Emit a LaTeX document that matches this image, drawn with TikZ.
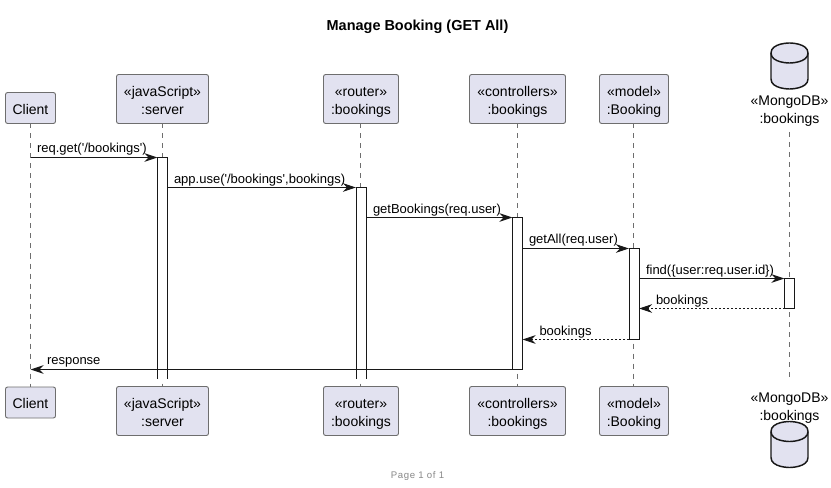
\documentclass[tikz,border=0pt]{standalone}
\usepackage{fontspec}
\usetikzlibrary{arrows.meta}
\newfontfamily\diagfont{Liberation Sans}
\definecolor{partfill}{HTML}{E2E2F0}
\definecolor{partline}{HTML}{181818}
\definecolor{boxline}{HTML}{6E6E6E}
\definecolor{lifecol}{HTML}{6E6E6E}
\definecolor{footcol}{HTML}{888888}
\newcommand{\lowered}[1]{\raisebox{-2.1pt}[\height][\depth]{#1}}
\newcommand{\twolines}[2]{\lowered{\strut #1}\\\lowered{\strut #2}}
\tikzset{
  partbox/.style={draw=boxline,fill=partfill,line width=.7pt,rounded corners=1.6pt,inner sep=0pt,outer sep=0pt,
    align=center,font=\diagfont\fontsize{10.5}{13.5}\selectfont,minimum height=36.75pt},
  clientbox/.style={partbox,minimum height=23.25pt,minimum width=37.5pt},
  dblabel/.style={inner sep=0pt,outer sep=0pt,align=center,minimum height=36pt,font=\diagfont\fontsize{10.5}{13.5}\selectfont},
  lifeline/.style={draw=lifecol,line width=.6pt,dash pattern=on 3.75pt off 3.75pt},
  actbox/.style={draw=partline,fill=white,line width=.75pt,minimum width=7.5pt,inner sep=0pt,outer sep=0pt,anchor=north},
  actopen/.style={actbox,draw=none},
  actedge/.style={draw=partline,line width=.75pt},
  msg/.style={draw=partline,line width=.75pt,-{Stealth[length=9.75pt,width=6.4pt,inset=3pt]}},
  retmsg/.style={msg,line width=.6pt,dash pattern=on 1.5pt off 1.5pt},
  msglabel/.style={inner sep=0pt,outer sep=0pt,anchor=west,font=\diagfont\fontsize{9.75}{12}\selectfont},
  dbshape/.pic={
    \draw[draw=partline,fill=partfill,line width=1.1pt]
      (-18.5,-13) .. controls (-18.5,-23) and (0,-23) .. (0,-23)
      .. controls (0,-23) and (18.5,-23) .. (18.5,-13)
      -- (18.5,13) .. controls (18.5,23) and (0,23) .. (0,23)
      .. controls (0,23) and (-18.5,23) .. (-18.5,13) -- cycle;
    \draw[draw=partline,line width=1.1pt]
      (-18.5,-13) .. controls (-18.5,-3) and (0,-3) .. (0,-3)
      .. controls (0,-3) and (18.5,-3) .. (18.5,-13);
  }
}
\begin{document}
\begin{tikzpicture}[x=.75pt,y=-.75pt]
\useasboundingbox (0,0) rectangle (831,488);
\fill[white] (0,0) rectangle (831,488);
\node[inner sep=0pt,font=\diagfont\bfseries\fontsize{10.85}{12}\selectfont] (title) at (417.5,27) {Manage Booking (GET All)};
\node[inner sep=0pt,text=footcol,font=\diagfont\fontsize{7.2}{9}\selectfont,text width=60pt,align=center] (footer) at (417.5,476) {P\hspace{.5pt}a\hspace{.5pt}g\hspace{.5pt}e 1 o\hspace{.5pt}f 1};
% top participants
\node[clientbox] (ct) at (30.5,108) {\lowered{\strut Client}};
\node[partbox,minimum width=69pt] (st) at (162.5,99) {\twolines{«javaScript»}{:server}};
\node[partbox,minimum width=56.25pt] (rt) at (361,99) {\twolines{«router»}{:bookings}};
\node[partbox,minimum width=72pt] (kt) at (517.5,99) {\twolines{«controllers»}{:bookings}};
\node[partbox,minimum width=51.75pt] (mt) at (634,99) {\twolines{«model»}{:Booking}};
\pic at (789.5,66) {dbshape};
\node[dblabel] (dt) at (789.5,108) {\twolines{«MongoDB»}{:bookings}};
% bottom participants
\node[clientbox] (cb) at (30.5,402.5) {\lowered{\strut Client}};
\node[partbox,minimum width=69pt] (sb) at (162.5,411) {\twolines{«javaScript»}{:server}};
\node[partbox,minimum width=56.25pt] (rb) at (361,411) {\twolines{«router»}{:bookings}};
\node[partbox,minimum width=72pt] (kb) at (517.5,411) {\twolines{«controllers»}{:bookings}};
\node[partbox,minimum width=51.75pt] (mb) at (634,411) {\twolines{«model»}{:Booking}};
\node[dblabel] (db) at (789.5,405) {\twolines{«MongoDB»}{:bookings}};
\pic at (789.5,444.5) {dbshape};
% lifelines
\draw[lifeline] (ct.south) -- (cb.north);
\draw[lifeline] (st.south) -- (sb.north);
\draw[lifeline] ([xshift=-.35pt]rt.south) -- ([xshift=-.35pt]rb.north);
\draw[lifeline] (kt.south) -- (kb.north);
\draw[lifeline] ([xshift=-.35pt]mt.south) -- ([xshift=-.35pt]mb.north);
\draw[lifeline] (dt.south) -- (db.north);
% activations
\node[actopen,minimum height=166.1pt] (a1) at (162.5,157.5) {};
\draw[actedge] (a1.south west) -- (a1.north west) -- (a1.north east) -- (a1.south east);
\node[actopen,minimum height=143.6pt] (a2) at (361,187.5) {};
\draw[actedge] (a2.south west) -- (a2.north west) -- (a2.north east) -- (a2.south east);
\node[actbox,minimum height=114pt] (a3) at (517.5,217.5) {};
\node[actbox,minimum height=68.25pt] (a4) at (634,248.5) {};
\node[actbox,minimum height=22.5pt] (a5) at (789.5,278.5) {};
% messages
\draw[msg] (ct.south |- a1.north) -- (a1.north west);
\draw[msg] (a1.east |- a2.north) -- (a2.north west);
\draw[msg] (a2.east |- a3.north) -- (a3.north west);
\draw[msg] (a3.east |- a4.north) -- (a4.north west);
\draw[msg] (a4.east |- a5.north) -- (a5.north west);
\draw[retmsg] (a5.south west) -- (a4.east |- a5.south);
\draw[retmsg] (a4.south west) -- (a3.east |- a4.south);
\draw[msg] (a3.south west) -- (ct.south |- a3.south);
% labels
\node[msglabel] (l1) at (37,149.5) {req.get('/bookings')};
\node[msglabel] (l2) at (174,180) {app.use('/bookings',bookings)};
\node[msglabel] (l3) at (373,210.5) {getBookings(req.user)};
\node[msglabel] (l4) at (529,240.5) {getAll(req.user)};
\node[msglabel] (l5) at (646,271.5) {find(\{user:req.user.id\})};
\node[msglabel] (l6) at (656,301.5) {bookings};
\node[msglabel] (l7) at (539.5,332) {bookings};
\node[msglabel] (l8) at (47,362.5) {response};
\end{tikzpicture}
\end{document}
